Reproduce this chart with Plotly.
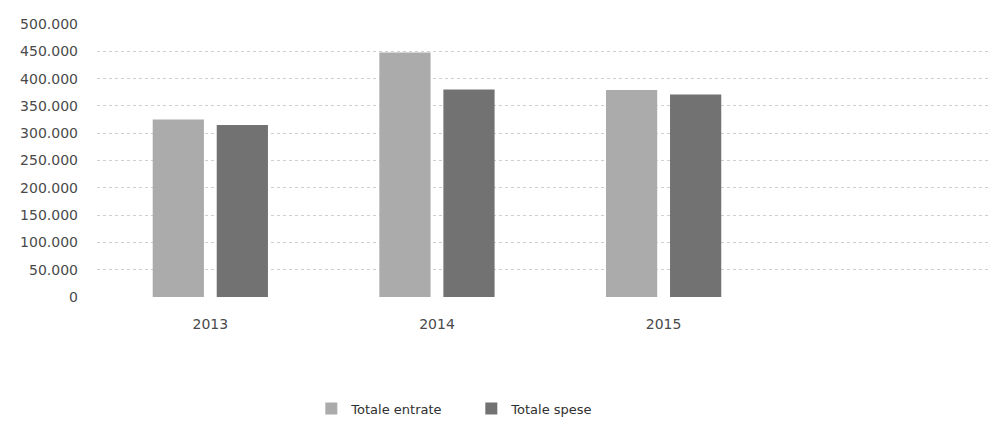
import plotly.graph_objects as go

years = ["2013", "2014", "2015"]
entrate = [325000, 448000, 379000]
spese = [315000, 380000, 371000]
series_names = ["Totale entrate", "Totale spese"]
y_ticks = [0, 50000, 100000, 150000, 200000, 250000, 300000, 350000, 400000, 450000, 500000]

fig = go.Figure()
fig.add_trace(go.Bar(x=years, y=entrate, name=series_names[0],
                     marker=dict(color="#ababab", line=dict(width=0))))
fig.add_trace(go.Bar(x=years, y=spese, name=series_names[1],
                     marker=dict(color="#727272", line=dict(width=0))))

fig.update_layout(
    width=995, height=421,
    margin=dict(l=97, r=5, t=24, b=124, autoexpand=False),
    paper_bgcolor="white", plot_bgcolor="white",
    barmode="group", bargap=0.435, bargroupgap=0.2,
    separators=",.",
    font=dict(family="DejaVu Sans, sans-serif", size=14, color="#4a4a4a"),
    legend=dict(orientation="h", x=0.24, xanchor="left",
                yref="container", y=0.065, yanchor="top",
                font=dict(family="DejaVu Sans, sans-serif", size=13, color="#303030"),
                itemwidth=30, entrywidth=115, traceorder="normal"),
    showlegend=True,
)
fig.update_xaxes(type="category", categoryorder="array", categoryarray=years,
                 range=[-0.5, 3.44], showgrid=False, showline=False, ticks="",
                 ticklabelstandoff=17, automargin=False,
                 tickfont=dict(size=14, color="#4a4a4a"))
fig.update_yaxes(range=[0, 500000], tickvals=y_ticks, tickformat=",d",
                 showgrid=True, gridcolor="#cfcfcf", griddash="dot", gridwidth=1,
                 zeroline=False, showline=False, ticks="", ticklabelstandoff=18,
                 automargin=False,
                 tickfont=dict(size=14, color="#4a4a4a"))

fig.write_html("out.html", config={"displayModeBar": False},
               post_script="document.body.style.margin='0';")
